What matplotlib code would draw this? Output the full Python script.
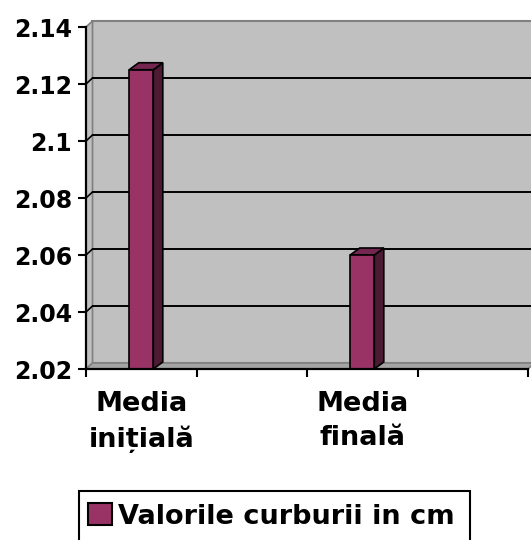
import matplotlib
matplotlib.use("Agg")
import matplotlib.pyplot as plt
from matplotlib.patches import Rectangle, Polygon

plt.rcParams['font.family'] = ['DejaVu Sans']
plt.rcParams['font.weight'] = 'bold'

# Data
categories = ["Media\ninițială", "", "Media\nfinală", ""]
values = [2.125, None, 2.06, None]
series_name = "Valorile curburii in cm"
y_ticks = [2.02, 2.04, 2.06, 2.08, 2.1, 2.12, 2.14]
y_tick_labels = ["2.02", "2.04", "2.06", "2.08", "2.1", "2.12", "2.14"]

BAR_FACE = "#993366"
BAR_SIDE = "#4d1a33"
BAR_TOP = "#732650"
WALL = "#c0c0c0"
FLOOR = "#a4a4a4"
EDGE = "#808080"

W, H = 531, 540
fig = plt.figure(figsize=(W / 100, H / 100), dpi=100)
ax = fig.add_axes([86 / W, 1 - 369 / H, 442 / W, 342 / H])
ymin, ymax = y_ticks[0], y_ticks[-1]
n = len(categories)
ax.set_xlim(0, n)
ax.set_ylim(ymin, ymax)


def depth(px_x, px_y):
    """Convert a pixel offset into data-unit offsets."""
    inv = ax.transData.inverted()
    x0, y0 = ax.transData.transform((0, ymin))
    x1, y1 = inv.transform((x0 + px_x, y0 + px_y))
    return x1, y1 - ymin


fig.canvas.draw()
wdx, wdy = depth(6.5, 6)
bdx, bdy = depth(9.5, 7)

# Back wall
ax.add_patch(Rectangle((wdx, ymin + wdy), n, ymax - ymin, facecolor=WALL,
                       edgecolor=EDGE, lw=1.5, zorder=0, clip_on=False))
# Side wall
ax.add_patch(Polygon([(0, ymin), (0, ymax), (wdx, ymax + wdy), (wdx, ymin + wdy)],
                     closed=True, facecolor=WALL, edgecolor=EDGE, lw=1.2,
                     zorder=0.5, clip_on=False))
# Floor
ax.add_patch(Polygon([(0, ymin), (n, ymin), (n + wdx, ymin + wdy), (wdx, ymin + wdy)],
                     closed=True, facecolor=FLOOR, edgecolor=EDGE, lw=1.2,
                     zorder=0.6, clip_on=False))

# Gridlines on back and side walls
for v in y_ticks[1:-1]:
    ax.plot([wdx, n + wdx], [v + wdy, v + wdy], color="black", lw=1.4,
            zorder=1, clip_on=False, solid_capstyle="butt")
    ax.plot([0, wdx], [v, v + wdy], color="black", lw=1.2, zorder=1, clip_on=False)

# Bars
bw = 0.218
for i, v in enumerate(values):
    if v is None:
        continue
    xc = i + 0.5
    xl, xr = xc - bw / 2, xc + bw / 2
    ax.add_patch(Polygon([(xr, ymin), (xr, v), (xr + bdx, v + bdy), (xr + bdx, ymin + bdy)],
                         closed=True, facecolor=BAR_SIDE, edgecolor="black", lw=1.2,
                         zorder=3, clip_on=False))
    ax.add_patch(Polygon([(xl, v), (xr, v), (xr + bdx, v + bdy), (xl + bdx, v + bdy)],
                         closed=True, facecolor=BAR_TOP, edgecolor="black", lw=1.2,
                         zorder=3, clip_on=False))
    ax.add_patch(Rectangle((xl, ymin), bw, v - ymin, facecolor=BAR_FACE,
                           edgecolor="black", lw=1.2, zorder=4, clip_on=False))

# Axes
ax.patch.set_visible(False)
for s in ("top", "right"):
    ax.spines[s].set_visible(False)
for s in ("left", "bottom"):
    ax.spines[s].set_linewidth(1.6)
    ax.spines[s].set_zorder(5)
ax.set_yticks(y_ticks)
ax.set_yticklabels(y_tick_labels, fontsize=17, fontweight="bold")
ax.set_xticks(range(n + 1))
ax.set_xticklabels([])
ax.set_xticks([i + 0.5 for i in range(n)], minor=True)
ax.set_xticklabels(categories, minor=True, fontsize=19.5, fontweight="bold",
                   linespacing=1.4, va="top")
ax.tick_params(axis="x", which="minor", length=0, pad=16)
ax.tick_params(axis="x", which="major", direction="out", length=6, width=1.5)
ax.tick_params(axis="y", direction="out", length=6, width=1.5, pad=4)

# Legend (its frame runs past the lower edge of the figure)
handle = Rectangle((0, 0), 1, 1, facecolor=BAR_FACE, edgecolor="black", lw=1.5)
leg = fig.legend([handle], [series_name], loc="upper left",
                 bbox_to_anchor=(79 / W, 1 - 494 / H), prop={"size": 19.5, "weight": "bold"},
                 frameon=False, handlelength=0.85, handleheight=0.85,
                 handletextpad=0.25, borderpad=0.35, borderaxespad=0)
fig.patches.append(Rectangle((79 / W, -0.02), (470 - 79) / W, 0.02 + (540 - 491) / H,
                             transform=fig.transFigure, facecolor="none",
                             edgecolor="black", lw=1.5, figure=fig))

fig.savefig("out.png", dpi=100)
